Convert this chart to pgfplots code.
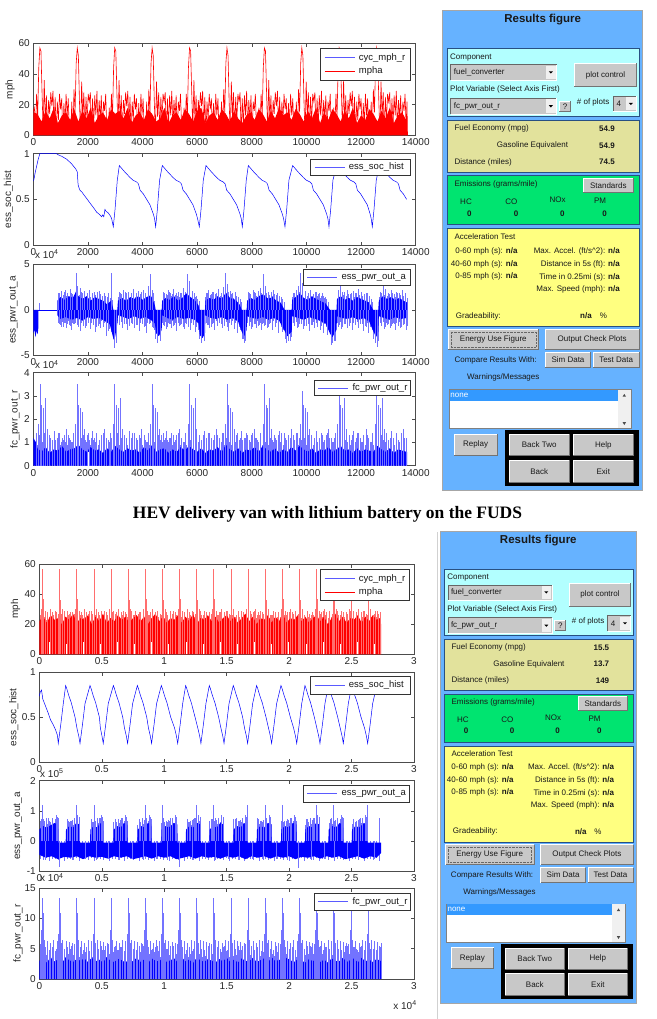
\documentclass[border=0pt]{standalone}
\usepackage{fontspec}
\setmainfont{Liberation Sans}
\newfontfamily\titlefont{Liberation Serif}
\usepackage{graphicx}
\usepackage{pgfplots}
\pgfplotsset{compat=1.18}

\definecolor{panelblue}{RGB}{102,178,255}
\definecolor{cyanp}{RGB}{178,255,255}
\definecolor{khaki}{RGB}{226,226,156}
\definecolor{greenp}{RGB}{0,228,112}
\definecolor{yellowp}{RGB}{255,255,128}
\definecolor{bord}{RGB}{40,80,130}
\definecolor{btngray}{RGB}{200,200,200}
\definecolor{selblue}{RGB}{51,153,255}
\definecolor{spk}{RGB}{115,115,255}
\definecolor{spkr}{RGB}{255,110,110}
\definecolor{lgblue}{RGB}{90,90,255}

\pgfplotsset{
  mat/.style={
    scale only axis, anchor=north west,
    axis line style={draw=black!70, line width=0.5pt},
    every tick/.style={draw=black!70, line width=0.5pt},
    major tick length=3.5pt, tick align=inside,
    xtick pos=both, ytick pos=both, xticklabel pos=lower, yticklabel pos=left,
    ticklabel style={font=\fontsize{10}{12}\selectfont, text=black!85},
    /pgf/number format/assume math mode=true,
    scaled ticks=false, /pgf/number format/1000 sep={},
    every axis y label/.style={rotate=90, anchor=center, font=\fontsize{10}{12}\selectfont, text=black!85},
    clip=true,
  },
  topx/.style={mat, width=382.4pt, xmin=0, xmax=14000, xtick={0,2000,4000,6000,8000,10000,12000,14000}},
  botx/.style={mat, width=374.7pt, xmin=0, xmax=3, xtick={0,0.5,1,1.5,2,2.5,3}},
}

\tikzset{gui/.style={font=\fontsize{8}{9.6}\selectfont, inner sep=0pt, text=black!90},
  lgt/.style={anchor=west, inner sep=0pt, font=\fontsize{9.5}{11}\selectfont, text=black!90}}

% legend box with one or two entries: left, top, right, bottom (pt, y downward)
\newcommand{\legone}[6]{%
  \begin{scope}[x=1pt, y=-1pt]
  \filldraw[fill=white, draw=black!80, line width=0.6pt] (#1,#2) rectangle (#3,#4);
  \draw[#5, line width=0.7pt] ({#1+4},{(#2+#4)/2}) -- ({#1+34},{(#2+#4)/2});
  \node[lgt] at ({#1+38},{(#2+#4)/2}) {#6};
  \end{scope}
}
\newcommand{\legtwo}[4]{%
  \begin{scope}[x=1pt, y=-1pt]
  \filldraw[fill=white, draw=black!80, line width=0.6pt] (#1,#2) rectangle (#3,#4);
  \draw[lgblue, line width=0.7pt] ({#1+4},{#2+9.4}) -- ({#1+34},{#2+9.4});
  \node[lgt] at ({#1+38},{#2+9.4}) {cyc\_mph\_r};
  \draw[red, line width=0.7pt] ({#1+4},{#2+23}) -- ({#1+34},{#2+23});
  \node[lgt] at ({#1+38},{#2+23}) {mpha};
  \end{scope}
}

\newcommand{\btn}[5]{%
  \fill[btngray] (#1,#2) rectangle (#3,#4);
  \draw[white, line width=0.8pt] (#1,#4) -- (#1,#2) -- (#3,#2);
  \draw[black!55, line width=0.8pt] (#1,#4) -- (#3,#4) -- (#3,#2);
  \node[gui] at ({(#1+#3)/2},{(#2+#4)/2}) {#5};
}
\newcommand{\ddown}[5]{%
  \fill[btngray] (#1,#2) rectangle (#3,#4);
  \draw[black!60, line width=0.5pt] (#1,#4) -- (#1,#2) -- (#3,#2);
  \draw[white, line width=0.5pt] (#1,#4) -- (#3,#4) -- (#3,#2);
  \node[gui, anchor=west] at ({#1+3},{(#2+#4)/2}) {#5};
  \fill[gray!12] ({#3-10.5},{#2+1.2}) rectangle ({#3-1.2},{#4-1.2});
  \fill[black] ({#3-7.9},{(#2+#4)/2-1}) -- ({#3-3.8},{(#2+#4)/2-1}) -- ({#3-5.85},{(#2+#4)/2+1.2}) -- cycle;
}
\newcommand{\guipanel}[3]{%
  \fill[panelblue] (0,0) rectangle (199.3,480);
  \draw[black!35, line width=0.6pt] (0,0) rectangle (199.3,480);
  \node[gui, font=\fontsize{11.5}{13}\selectfont\bfseries] at (100,8.5) {Results figure};
  \filldraw[fill=cyanp, draw=bord, line width=0.7pt] (4.6,38) rectangle (196.6,105.6);
  \node[gui, anchor=west] at (7.3,46.6) {Component};
  \ddown{8}{54}{114}{69.3}{fuel\_converter}
  \btn{131.6}{52.6}{194}{76}{plot control}
  \node[gui, anchor=west] at (7.3,79) {Plot Variable (Select Axis First)};
  \ddown{8}{87.5}{114}{103.6}{fc\_pwr\_out\_r}
  \btn{116.6}{90.3}{128}{100.8}{?}
  \node[gui, anchor=west] at (134,91.3) {\# of plots};
  \ddown{170.6}{85.3}{194}{101}{4}
  \filldraw[fill=khaki, draw=bord, line width=0.7pt] (4.6,109.6) rectangle (196.6,161.3);
  \node[gui, anchor=west] at (11.6,118) {Fuel Economy (mpg)};
  \node[gui, anchor=east, font=\fontsize{8}{9.6}\selectfont\bfseries] at (172.3,118) {#1};
  \node[gui, anchor=west] at (54,134.6) {Gasoline Equivalent};
  \node[gui, anchor=east, font=\fontsize{8}{9.6}\selectfont\bfseries] at (172.3,134.6) {#2};
  \node[gui, anchor=west] at (11.6,151.3) {Distance (miles)};
  \node[gui, anchor=east, font=\fontsize{8}{9.6}\selectfont\bfseries] at (172.3,151.3) {#3};
  \filldraw[fill=greenp, draw=bord, line width=0.7pt] (4.6,165) rectangle (196.6,214);
  \node[gui, anchor=west] at (11.6,173.6) {Emissions (grams/mile)};
  \btn{140.6}{167.3}{190.6}{182}{Standards}
  \node[gui] at (23.3,191.3) {HC};
  \node[gui] at (68.6,191.3) {CO};
  \node[gui] at (115,189.5) {NOx};
  \node[gui] at (157.3,190) {PM};
  \node[gui, font=\fontsize{8}{9.6}\selectfont\bfseries] at (26.6,202.6) {0};
  \node[gui, font=\fontsize{8}{9.6}\selectfont\bfseries] at (73.3,202.6) {0};
  \node[gui, font=\fontsize{8}{9.6}\selectfont\bfseries] at (119.6,202.6) {0};
  \node[gui, font=\fontsize{8}{9.6}\selectfont\bfseries] at (162,202.6) {0};
  \filldraw[fill=yellowp, draw=bord, line width=0.7pt] (4.6,218) rectangle (196.6,316);
  \node[gui, anchor=west] at (11.6,226) {Acceleration Test};
  \node[gui, anchor=east] at (75,240.3) {0-60 mph (s): \textbf{n/a}};
  \node[gui, anchor=east] at (75,253.3) {40-60 mph (s): \textbf{n/a}};
  \node[gui, anchor=east] at (75,265.3) {0-85 mph (s): \textbf{n/a}};
  \node[gui, anchor=east] at (177.3,240.3) {Max. Accel. (ft/s\textasciicircum 2): \textbf{n/a}};
  \node[gui, anchor=east] at (177.3,253.3) {Distance in 5s (ft): \textbf{n/a}};
  \node[gui, anchor=east] at (177.3,266.6) {Time in 0.25mi (s): \textbf{n/a}};
  \node[gui, anchor=east] at (177.3,278.6) {Max. Speed (mph): \textbf{n/a}};
  \node[gui, anchor=west] at (13,305.3) {Gradeability:};
  \node[gui, font=\fontsize{8}{9.6}\selectfont\bfseries] at (143.3,305.3) {n/a};
  \node[gui] at (160.6,305.3) {\%};
  \btn{5.6}{318.6}{95.6}{338.6}{Energy Use Figure}
  \draw[black!60, dash pattern=on 0.6pt off 0.8pt] (8,321) rectangle (93.2,336.2);
  \btn{102.6}{318.6}{196.3}{338.6}{Output Check Plots}
  \node[gui] at (53,349.3) {Compare Results With:};
  \btn{102.6}{341.6}{148}{357}{Sim Data}
  \btn{150.6}{341.6}{196.3}{357}{Test Data}
  \node[gui] at (60.6,366.6) {Warnings/Messages};
  \filldraw[fill=white, draw=black!50, line width=0.5pt] (6.3,378.6) rectangle (188.3,418);
  \fill[selblue] (6.8,379.1) rectangle (175,390);
  \node[gui, anchor=west, text=white] at (7.5,384.5) {none};
  \fill[gray!12] (175,379.1) rectangle (187.8,417.5);
  \fill[black!70] (179.9,386) -- (183.3,386) -- (181.6,383.2) -- cycle;
  \fill[black!70] (179.9,411.5) -- (183.3,411.5) -- (181.6,414.3) -- cycle;
  \btn{11.3}{423.3}{54.6}{444.3}{Replay}
  \fill[black] (62,419.3) rectangle (196.6,475);
  \btn{66.6}{423.6}{126.3}{445}{Back Two}
  \btn{130.6}{423.6}{190.6}{445}{Help}
  \btn{66.6}{449.3}{126.3}{471.6}{Back}
  \btn{130.6}{449.3}{190.6}{471.6}{Exit}
}

\begin{document}
\begin{tikzpicture}
\useasboundingbox (0,0) rectangle (656pt,-1019pt);

%================= TOP SCREENSHOT =================
\begin{axis}[topx, at={(33.3pt,-43.3pt)}, height=92pt, ymin=0, ymax=60, ytick={0,20,40,60},
  ylabel={mph}, ylabel style={at={(axis description cs:-0.061,0.5)}}]
\addplot[fill=red, draw=none] coordinates {(0,0)(0,15)
(150,14)(300,9)(450,16)(600,11)(750,18)(900,8)(1050,13)(1200,15)(1350,10)(1500,17)
(1650,9)(1800,16)(1950,11)(2100,18)(2250,8)(2400,13)(2550,15)(2700,10)(2850,17)(3000,14)
(3150,16)(3300,11)(3450,18)(3600,8)(3750,13)(3900,15)(4050,10)(4200,17)(4350,14)(4500,9)
(4650,11)(4800,18)(4950,8)(5100,13)(5250,15)(5400,10)(5550,17)(5700,14)(5850,9)(6000,16)
(6150,18)(6300,8)(6450,13)(6600,15)(6750,10)(6900,17)(7050,14)(7200,9)(7350,16)(7500,11)
(7650,8)(7800,13)(7950,15)(8100,10)(8250,17)(8400,14)(8550,9)(8700,16)(8850,11)(9000,18)
(9150,13)(9300,15)(9450,10)(9600,17)(9750,14)(9900,9)(10050,16)(10200,11)(10350,18)(10500,8)
(10650,15)(10800,10)(10950,17)(11100,14)(11250,9)(11400,16)(11550,11)(11700,18)(11850,8)(12000,13)
(12150,10)(12300,17)(12450,14)(12600,9)(12750,16)(12900,11)(13050,18)(13200,8)(13350,13)(13500,15)(13650,10)(13690,12)(13690,0)};
\addplot[red, line width=0.6pt] coordinates {
(0,15)(40,18)(80,4)(120,27)(160,12)(200,44)(240,57)(280,55)(320,28)(360,3)(400,36)(440,9)(480,26)(520,0)(560,23)(600,14)(640,28)(680,19)(720,29)(760,5)(800,25)(840,0)(880,22)(920,10)(960,27)(1000,17)(1040,24)(1080,0)(1120,21)(1160,7)(1200,27)(1240,13)(1280,24)(1320,2)
(1370,2)(1410,22)(1450,0)(1490,30)(1530,15)(1570,47)(1610,57)(1650,52)(1690,22)(1730,0)(1770,35)(1810,12)(1850,28)(1890,2)(1930,25)(1970,9)(2010,27)(2050,22)(2090,28)(2130,0)(2170,24)(2210,6)(2250,26)(2290,13)(2330,29)(2370,4)(2410,23)(2450,11)(2490,26)(2530,0)(2570,22)(2610,16)(2650,27)(2690,5)
(2740,0)(2780,18)(2820,4)(2860,27)(2900,12)(2940,44)(2980,57)(3020,55)(3060,28)(3100,3)(3140,36)(3180,9)(3220,26)(3260,0)(3300,23)(3340,14)(3380,28)(3420,19)(3460,29)(3500,5)(3540,25)(3580,0)(3620,22)(3660,10)(3700,27)(3740,17)(3780,24)(3820,0)(3860,21)(3900,7)(3940,27)(3980,13)(4020,24)(4060,2)
(4110,2)(4150,22)(4190,0)(4230,30)(4270,15)(4310,47)(4350,57)(4390,52)(4430,22)(4470,0)(4510,35)(4550,12)(4590,28)(4630,2)(4670,25)(4710,9)(4750,27)(4790,22)(4830,28)(4870,0)(4910,24)(4950,6)(4990,26)(5030,13)(5070,29)(5110,4)(5150,23)(5190,11)(5230,26)(5270,0)(5310,22)(5350,16)(5390,27)(5430,5)
(5480,0)(5520,18)(5560,4)(5600,27)(5640,12)(5680,44)(5720,57)(5760,55)(5800,28)(5840,3)(5880,36)(5920,9)(5960,26)(6000,0)(6040,23)(6080,14)(6120,28)(6160,19)(6200,29)(6240,5)(6280,25)(6320,0)(6360,22)(6400,10)(6440,27)(6480,17)(6520,24)(6560,0)(6600,21)(6640,7)(6680,27)(6720,13)(6760,24)(6800,2)
(6850,2)(6890,22)(6930,0)(6970,30)(7010,15)(7050,47)(7090,57)(7130,52)(7170,22)(7210,0)(7250,35)(7290,12)(7330,28)(7370,2)(7410,25)(7450,9)(7490,27)(7530,22)(7570,28)(7610,0)(7650,24)(7690,6)(7730,26)(7770,13)(7810,29)(7850,4)(7890,23)(7930,11)(7970,26)(8010,0)(8050,22)(8090,16)(8130,27)(8170,5)
(8220,0)(8260,18)(8300,4)(8340,27)(8380,12)(8420,44)(8460,57)(8500,55)(8540,28)(8580,3)(8620,36)(8660,9)(8700,26)(8740,0)(8780,23)(8820,14)(8860,28)(8900,19)(8940,29)(8980,5)(9020,25)(9060,0)(9100,22)(9140,10)(9180,27)(9220,17)(9260,24)(9300,0)(9340,21)(9380,7)(9420,27)(9460,13)(9500,24)(9540,2)
(9590,2)(9630,22)(9670,0)(9710,30)(9750,15)(9790,47)(9830,57)(9870,52)(9910,22)(9950,0)(9990,35)(10030,12)(10070,28)(10110,2)(10150,25)(10190,9)(10230,27)(10270,22)(10310,28)(10350,0)(10390,24)(10430,6)(10470,26)(10510,13)(10550,29)(10590,4)(10630,23)(10670,11)(10710,26)(10750,0)(10790,22)(10830,16)(10870,27)(10910,5)
(10960,0)(11000,18)(11040,4)(11080,27)(11120,12)(11160,44)(11200,57)(11240,55)(11280,28)(11320,3)(11360,36)(11400,9)(11440,26)(11480,0)(11520,23)(11560,14)(11600,28)(11640,19)(11680,29)(11720,5)(11760,25)(11800,0)(11840,22)(11880,10)(11920,27)(11960,17)(12000,24)(12040,0)(12080,21)(12120,7)(12160,27)(12200,13)(12240,24)(12280,2)
(12330,2)(12370,22)(12410,0)(12450,30)(12490,15)(12530,47)(12570,57)(12610,52)(12650,22)(12690,0)(12730,35)(12770,12)(12810,28)(12850,2)(12890,25)(12930,9)(12970,27)(13010,22)(13050,28)(13090,0)(13130,24)(13170,6)(13210,26)(13250,13)(13290,29)(13330,4)(13370,23)(13410,11)(13450,26)(13490,0)(13530,22)(13570,16)(13610,27)(13650,5)(13680,22)(13700,0)};
\end{axis}

\begin{axis}[topx, at={(33.3pt,-153.7pt)}, height=91.3pt, ymin=0, ymax=1, ytick={0,0.5,1},
  ylabel={ess\_soc\_hist}, ylabel style={at={(axis description cs:-0.065,0.5)}}]
\addplot[blue, line width=0.5pt] coordinates {
(0,0.70)(25,0.72)(60,0.78)(120,0.86)(180,0.94)(240,1.0)(850,1.0)(900,0.99)(1050,0.97)(1220,0.94)(1400,0.89)(1560,0.83)(1610,0.80)(1640,0.66)(1680,0.62)(1710,0.60)(1780,0.58)(1850,0.55)(1953,0.51)(2050,0.47)(2150,0.43)(2250,0.39)(2319,0.36)(2400,0.34)(2502,0.31)(2540,0.33)(2580,0.31)(2624,0.39)(2660,0.37)(2746,0.35)(2820,0.32)(2868,0.29)(2929,0.20)(2990,0.38)(3075,0.71)
(3149,0.87)(3234,0.84)(3349,0.80)(3539,0.74)(3649,0.71)(3783,0.69)(3849,0.67)(3909,0.60)(4027,0.56)(4149,0.50)(4271,0.44)(4393,0.34)(4439,0.29)(4479,0.20)(4539,0.38)(4624,0.71)
(4723,0.87)(4808,0.84)(4923,0.80)(5113,0.74)(5223,0.71)(5357,0.69)(5423,0.67)(5483,0.60)(5601,0.56)(5723,0.50)(5845,0.44)(5967,0.34)(6013,0.29)(6078,0.20)(6138,0.38)(6223,0.71)
(6322,0.87)(6407,0.84)(6522,0.80)(6712,0.74)(6822,0.71)(6956,0.69)(7022,0.67)(7082,0.60)(7200,0.56)(7322,0.50)(7444,0.44)(7566,0.34)(7612,0.29)(7652,0.20)(7712,0.38)(7797,0.71)
(7872,0.87)(7957,0.84)(8072,0.80)(8262,0.74)(8372,0.71)(8506,0.69)(8572,0.67)(8632,0.60)(8750,0.56)(8872,0.50)(8994,0.44)(9116,0.34)(9162,0.29)(9214,0.20)(9274,0.38)(9359,0.71)
(9495,0.87)(9580,0.84)(9695,0.80)(9885,0.74)(9995,0.71)(10129,0.69)(10195,0.67)(10255,0.60)(10373,0.56)(10495,0.50)(10617,0.44)(10739,0.34)(10785,0.29)(10825,0.20)(10885,0.38)(10970,0.71)
(11106,0.87)(11191,0.84)(11306,0.80)(11496,0.74)(11606,0.71)(11740,0.69)(11806,0.67)(11866,0.60)(11984,0.56)(12106,0.50)(12228,0.44)(12330,0.34)(12370,0.29)(12411,0.20)(12471,0.38)(12556,0.71)
(12668,0.87)(12753,0.84)(12868,0.80)(13058,0.74)(13168,0.71)(13302,0.69)(13368,0.67)(13428,0.60)(13546,0.56)(13668,0.50)};
\end{axis}

\begin{axis}[topx, at={(33.3pt,-264.3pt)}, height=91pt, ymin=-5, ymax=5, ytick={-5,0,5},
  ylabel={ess\_pwr\_out\_a}, ylabel style={at={(axis description cs:-0.052,0.5)}}]
\addplot[fill=blue, draw=none] coordinates {(0,0)(0,-2.6)(40,-2.2)(80,-3.0)(120,-2.3)(160,-2.7)(190,-1.8)(190,0)};
\addplot[blue, line width=0.5pt] coordinates {(190,0)(880,0)};
\addplot[ycomb, draw=spk, line width=0.45pt] coordinates {
(900,1.4)(960,1.8)(1020,1.3)(1080,1.6)(1140,2.0)(1200,1.5)(1260,1.7)(1320,1.3)(1380,1.9)(1440,1.5)(1500,1.4)(1560,1.8)(1620,1.3)(1680,1.6)(1740,2.0)(1800,1.5)(1860,1.7)(1920,1.3)(1980,1.9)(2040,1.5)(2100,1.4)(2160,1.8)(2220,1.3)(2280,1.6)(2340,2.0)(2400,1.5)(2460,1.7)(2520,1.3)(2580,1.9)(2640,1.5)(2700,1.4)(2760,1.8)(2820,1.3)(2880,1.1)
(3120,1.4)(3180,1.8)(3240,1.3)(3300,1.6)(3360,2.0)(3420,1.5)(3480,1.7)(3540,1.3)(3600,1.9)(3660,1.5)(3720,1.4)(3780,1.8)(3840,1.3)(3900,1.6)(3960,2.0)(4020,1.5)(4080,1.7)(4140,1.3)(4200,1.9)(4260,1.5)(4320,1.4)(4380,1.8)(4440,1.0)
(4740,1.4)(4800,1.8)(4860,1.3)(4920,1.6)(4980,2.0)(5040,1.5)(5100,1.7)(5160,1.3)(5220,1.9)(5280,1.5)(5340,1.4)(5400,1.8)(5460,1.3)(5520,1.6)(5580,2.0)(5640,1.5)(5700,1.7)(5760,1.3)(5820,1.9)(5880,1.5)(5940,1.4)(6000,1.2)(6060,1.0)
(6300,1.4)(6360,1.8)(6420,1.3)(6480,1.6)(6540,2.0)(6600,1.5)(6660,1.7)(6720,1.3)(6780,1.9)(6840,1.5)(6900,1.4)(6960,1.8)(7020,1.3)(7080,1.6)(7140,2.0)(7200,1.5)(7260,1.7)(7320,1.3)(7380,1.9)(7440,1.5)(7500,1.4)(7560,1.2)(7620,0.9)
(7860,1.4)(7920,1.8)(7980,1.3)(8040,1.6)(8100,2.0)(8160,1.5)(8220,1.7)(8280,1.3)(8340,1.9)(8400,1.5)(8460,1.4)(8520,1.8)(8580,1.3)(8640,1.6)(8700,2.0)(8760,1.5)(8820,1.7)(8880,1.3)(8940,1.9)(9000,1.5)(9060,1.4)(9120,1.2)(9180,0.9)
(9480,1.4)(9540,1.8)(9600,1.3)(9660,1.6)(9720,2.0)(9780,1.5)(9840,1.7)(9900,1.3)(9960,1.9)(10020,1.5)(10080,1.4)(10140,1.8)(10200,1.3)(10260,1.6)(10320,2.0)(10380,1.5)(10440,1.7)(10500,1.3)(10560,1.9)(10620,1.5)(10680,1.4)(10740,1.2)(10800,0.9)
(11160,1.4)(11220,1.8)(11280,1.3)(11340,1.6)(11400,2.0)(11460,1.5)(11520,1.7)(11580,1.3)(11640,1.9)(11700,1.5)(11760,1.4)(11820,1.8)(11880,1.3)(11940,1.6)(12000,2.0)(12060,1.5)(12120,1.7)(12180,1.3)(12240,1.9)(12300,1.5)(12360,1.2)(12420,0.9)
(12660,1.4)(12720,1.8)(12780,1.3)(12840,1.6)(12900,2.0)(12960,1.5)(13020,1.7)(13080,1.3)(13140,1.9)(13200,1.5)(13260,1.4)(13320,1.8)(13380,1.3)(13440,1.6)(13500,2.0)(13560,1.5)(13620,1.7)(13680,1.3)};
\addplot[ycomb, draw=spk, line width=0.45pt] coordinates {
(930,-1.4)(990,-1.7)(1050,-1.3)(1110,-1.9)(1170,-1.5)(1230,-1.6)(1290,-1.2)(1350,-1.8)(1410,-1.4)(1470,-1.6)(1530,-1.4)(1590,-1.7)(1650,-1.3)(1710,-1.9)(1770,-1.5)(1830,-1.6)(1890,-1.2)(1950,-1.8)(2010,-1.4)(2070,-1.6)(2130,-1.4)(2190,-1.7)(2250,-1.3)(2310,-1.9)(2370,-1.5)(2430,-1.6)(2490,-1.2)(2550,-1.8)(2610,-1.4)(2670,-1.6)(2730,-1.9)(2790,-2.1)(2850,-2.4)
(2910,-3.2)(2970,-3.6)(3030,-2.9)
(3090,-1.4)(3150,-1.7)(3210,-1.3)(3270,-1.9)(3330,-1.5)(3390,-1.6)(3450,-1.2)(3510,-1.8)(3570,-1.4)(3630,-1.6)(3690,-1.4)(3750,-1.7)(3810,-1.3)(3870,-1.9)(3930,-1.5)(3990,-1.6)(4050,-1.2)(4110,-1.8)(4170,-1.4)(4230,-1.6)(4290,-1.4)(4350,-1.9)(4410,-2.2)
(4470,-3.2)(4530,-3.6)(4590,-2.9)(4650,-3.4)
(4710,-1.4)(4770,-1.7)(4830,-1.3)(4890,-1.9)(4950,-1.5)(5010,-1.6)(5070,-1.2)(5130,-1.8)(5190,-1.4)(5250,-1.6)(5310,-1.4)(5370,-1.7)(5430,-1.3)(5490,-1.9)(5550,-1.5)(5610,-1.6)(5670,-1.2)(5730,-1.8)(5790,-1.4)(5850,-1.6)(5910,-1.4)(5970,-1.9)(6030,-2.2)
(6090,-3.2)(6150,-3.6)(6210,-2.9)(6270,-3.4)
(6330,-1.4)(6390,-1.7)(6450,-1.3)(6510,-1.9)(6570,-1.5)(6630,-1.6)(6690,-1.2)(6750,-1.8)(6810,-1.4)(6870,-1.6)(6930,-1.4)(6990,-1.7)(7050,-1.3)(7110,-1.9)(7170,-1.5)(7230,-1.6)(7290,-1.2)(7350,-1.8)(7410,-1.4)(7470,-1.6)(7530,-1.9)(7590,-2.2)
(7650,-3.2)(7710,-3.6)(7770,-2.9)
(7830,-1.4)(7890,-1.7)(7950,-1.3)(8010,-1.9)(8070,-1.5)(8130,-1.6)(8190,-1.2)(8250,-1.8)(8310,-1.4)(8370,-1.6)(8430,-1.4)(8490,-1.7)(8550,-1.3)(8610,-1.9)(8670,-1.5)(8730,-1.6)(8790,-1.2)(8850,-1.8)(8910,-1.4)(8970,-1.6)(9030,-1.4)(9090,-1.9)(9150,-2.2)
(9210,-3.2)(9270,-3.6)(9330,-2.9)(9390,-3.4)(9450,-3.0)
(9510,-1.4)(9570,-1.7)(9630,-1.3)(9690,-1.9)(9750,-1.5)(9810,-1.6)(9870,-1.2)(9930,-1.8)(9990,-1.4)(10050,-1.6)(10110,-1.4)(10170,-1.7)(10230,-1.3)(10290,-1.9)(10350,-1.5)(10410,-1.6)(10470,-1.2)(10530,-1.8)(10590,-1.4)(10650,-1.6)(10710,-1.9)(10770,-2.1)(10830,-2.4)
(10890,-3.2)(10950,-3.6)(11010,-2.9)(11070,-3.4)
(11130,-1.4)(11190,-1.7)(11250,-1.3)(11310,-1.9)(11370,-1.5)(11430,-1.6)(11490,-1.2)(11550,-1.8)(11610,-1.4)(11670,-1.6)(11730,-1.4)(11790,-1.7)(11850,-1.3)(11910,-1.9)(11970,-1.5)(12030,-1.6)(12090,-1.2)(12150,-1.8)(12210,-1.4)(12270,-1.6)(12330,-1.9)(12390,-2.2)
(12450,-3.2)(12510,-3.6)(12570,-2.9)(12630,-3.4)
(12690,-1.4)(12750,-1.7)(12810,-1.3)(12870,-1.9)(12930,-1.5)(12990,-1.6)(13050,-1.2)(13110,-1.8)(13170,-1.4)(13230,-1.6)(13290,-1.4)(13350,-1.7)(13410,-1.3)(13470,-1.9)(13530,-1.5)(13590,-1.6)(13650,-1.2)};
\addplot[fill=blue, draw=none] coordinates {
(880,1.0)(1000,1.4)(1150,1.1)(1300,1.5)(1450,1.3)(1560,2.0)(1650,1.5)(1800,1.2)(1950,1.5)(2100,1.0)(2250,1.4)(2400,1.2)(2550,1.0)(2700,0.6)(2850,1.0)(2920,0.2)(2930,0)(3075,0)(3100,1.0)(3250,1.3)(3400,1.0)(3550,1.4)(3700,1.2)(3850,1.5)(4000,1.1)(4150,1.4)(4300,1.6)(4450,0.5)(4480,0)(4700,0)(4720,1.0)(4850,1.3)(5000,1.1)(5150,1.5)(5300,1.0)(5450,1.3)(5600,1.8)(5750,1.4)(5900,1.1)(6050,0.5)(6080,0)(6290,0)(6300,1.0)(6450,1.3)(6600,1.1)(6750,1.5)(6900,1.2)(7050,1.9)(7200,1.3)(7400,1.1)(7550,0.6)(7630,0)(7810,0)(7830,1.0)(7950,1.3)(8100,1.1)(8250,1.5)(8420,1.7)(8600,1.2)(8750,1.4)(8900,1.0)(9050,0.8)(9200,0)(9460,0)(9480,1.1)(9600,1.4)(9770,1.8)(9900,1.3)(10050,1.1)(10200,1.5)(10350,1.2)(10500,1.0)(10700,0.7)(10860,0)(11100,0)(11120,1.2)(11250,1.5)(11400,1.1)(11550,1.3)(11700,1.0)(11850,1.4)(12000,1.2)(12150,1.0)(12300,0.8)(12440,0)(12630,0)(12650,1.0)(12800,1.5)(12950,1.2)(13100,1.4)(13250,1.1)(13400,1.3)(13550,1.0)(13690,0.8)
(13690,-0.9)(13450,-1.0)(13250,-0.8)(13050,-1.1)(12850,-0.9)(12650,-0.7)(12630,-2.4)(12550,-3.0)(12440,-2.3)(12300,-1.3)(12100,-0.9)(11900,-1.1)(11700,-0.8)(11500,-1.0)(11300,-0.9)(11120,-0.7)(11100,-2.2)(10950,-3.0)(10860,-2.6)(10700,-1.5)(10500,-1.2)(10300,-1.0)(10100,-0.8)(9900,-1.1)(9700,-0.9)(9480,-0.7)(9460,-2.4)(9300,-2.9)(9200,-2.3)(9000,-1.2)(8800,-0.9)(8600,-1.1)(8400,-0.8)(8200,-1.0)(8000,-0.9)(7830,-0.7)(7810,-2.2)(7720,-2.9)(7630,-2.4)(7500,-1.3)(7300,-0.9)(7100,-1.1)(6900,-0.8)(6700,-1.0)(6500,-0.9)(6300,-0.6)(6290,-2.5)(6200,-3.1)(6100,-2.8)(6050,-1.5)(5900,-1.1)(5700,-0.9)(5500,-1.0)(5300,-0.8)(5100,-1.1)(4900,-0.9)(4720,-0.6)(4700,-2.2)(4600,-2.9)(4500,-2.6)(4450,-1.5)(4300,-1.1)(4100,-0.8)(3900,-1.0)(3700,-0.7)(3500,-1.0)(3300,-0.8)(3100,-0.6)(3075,-1.5)(3000,-2.9)(2950,-3.3)(2900,-2.8)(2800,-1.6)(2600,-1.2)(2400,-0.9)(2200,-1.0)(2000,-0.8)(1800,-1.2)(1600,-0.9)(1400,-1.1)(1200,-0.8)(1000,-1.0)(880,-0.6)};
\addplot[ycomb, draw=spk, line width=0.45pt] coordinates {
(210,0.8)(920,1.9)(1010,2.1)(1090,1.6)(1180,2.2)(1260,1.8)(1350,2.3)(1430,1.7)(1560,4.0)(1600,2.6)(1700,2.4)(1780,1.9)(1870,2.1)(1960,1.7)(2050,2.2)(2140,1.6)(2230,2.0)(2330,1.8)(2420,2.1)(2520,1.5)(2610,1.9)(2700,1.3)(2870,4.0)(3130,2.0)(3210,1.7)(3300,2.2)(3390,1.8)(3480,2.0)(3570,1.6)(3660,2.3)(3750,1.9)(3840,2.1)(3930,1.7)(4020,2.2)(4110,1.8)(4200,2.6)(4270,3.9)(4350,2.2)(4760,2.0)(4850,1.7)(4940,2.2)(5030,1.9)(5120,2.3)(5210,1.6)(5300,2.0)(5390,1.8)(5480,2.4)(5620,3.9)(5700,3.2)(5800,2.1)(5890,1.8)(5980,1.5)(6330,1.9)(6420,2.2)(6510,1.7)(6600,2.0)(6690,1.8)(6780,2.3)(6870,1.9)(6960,2.5)(7030,4.0)(7100,2.8)(7200,2.1)(7300,1.8)(7400,2.0)(7500,1.4)(7870,2.0)(7960,1.7)(8050,2.2)(8140,1.9)(8230,2.1)(8320,2.4)(8420,3.9)(8500,2.6)(8600,2.0)(8700,1.8)(8800,2.2)(8900,1.6)(9000,1.4)(9520,1.9)(9610,2.2)(9700,2.6)(9770,4.0)(9850,2.9)(9950,2.1)(10050,1.8)(10150,2.2)(10250,1.7)(10350,2.0)(10450,1.8)(10550,1.5)(10650,1.3)(11150,2.2)(11220,3.0)(11300,2.0)(11400,1.8)(11500,2.2)(11600,1.7)(11700,2.1)(11800,1.9)(11900,2.3)(12000,1.8)(12100,1.6)(12200,1.9)(12300,1.3)(12700,2.0)(12800,2.8)(12900,2.3)(13000,1.9)(13100,2.2)(13200,1.7)(13300,2.0)(13400,1.8)(13500,2.2)(13600,1.9)};
\addplot[ycomb, draw=spk, line width=0.45pt] coordinates {
(950,-1.6)(1040,-1.9)(1130,-1.5)(1220,-2.0)(1310,-1.7)(1400,-2.2)(1490,-1.6)(1640,-1.9)(1730,-2.3)(1820,-1.8)(1910,-2.0)(2000,-1.5)(2090,-2.1)(2180,-1.7)(2270,-2.4)(2360,-1.8)(2460,-2.0)(2560,-1.9)(2660,-2.9)(2760,-2.3)(2960,-4.2)(3020,-3.6)(3160,-1.7)(3250,-2.0)(3340,-1.6)(3430,-2.2)(3520,-1.8)(3610,-1.5)(3700,-2.0)(3790,-1.7)(3880,-2.3)(3970,-1.6)(4060,-1.9)(4150,-2.5)(4400,-2.0)(4550,-3.3)(4650,-3.0)(4790,-1.8)(4880,-2.1)(4970,-1.6)(5060,-2.0)(5150,-1.7)(5240,-2.3)(5330,-1.8)(5420,-1.6)(5520,-2.1)(5660,-1.9)(5760,-2.2)(5850,-1.7)(5940,-2.4)(6150,-3.6)(6250,-3.4)(6360,-1.7)(6450,-2.0)(6540,-1.6)(6630,-2.2)(6720,-1.8)(6810,-1.5)(6900,-2.0)(7000,-1.8)(7150,-2.3)(7250,-1.7)(7350,-2.1)(7450,-2.6)(7680,-3.2)(7760,-3.4)(7900,-1.8)(7990,-2.1)(8080,-1.6)(8170,-2.0)(8260,-1.7)(8350,-2.2)(8450,-1.8)(8550,-2.0)(8650,-1.6)(8750,-2.2)(8850,-1.9)(8950,-2.6)(9100,-2.4)(9260,-3.7)(9350,-3.4)(9550,-1.8)(9650,-2.0)(9750,-1.6)(9900,-2.1)(10000,-1.8)(10100,-2.3)(10200,-1.7)(10300,-2.0)(10400,-1.9)(10500,-2.2)(10600,-2.5)(10750,-2.8)(10900,-3.9)(11000,-3.4)(11180,-1.9)(11280,-2.1)(11380,-1.6)(11480,-2.0)(11580,-1.8)(11680,-2.2)(11780,-1.7)(11880,-2.0)(11980,-1.6)(12080,-2.3)(12180,-1.9)(12280,-2.5)(12500,-3.6)(12600,-4.1)(12750,-1.8)(12850,-2.1)(12950,-1.7)(13050,-2.0)(13150,-1.6)(13250,-2.2)(13350,-1.8)(13450,-2.0)(13550,-1.7)(13650,-2.2)(13690,-1.8)};
\end{axis}

\begin{axis}[topx, at={(33.3pt,-372.7pt)}, height=93pt, ymin=0, ymax=4, ytick={0,1,2,3,4},
  ylabel={fc\_pwr\_out\_r}, ylabel style={at={(axis description cs:-0.048,0.5)}}]
\addplot[ycomb, draw=spk, line width=0.45pt] coordinates {
(30,1.0)(90,1.2)(150,0.9)(210,1.3)(270,1.1)(330,1.0)(390,1.4)(450,0.9)(510,1.2)(570,1.1)
(630,1.2)(690,0.9)(750,1.3)(810,1.1)(870,1.0)(930,1.4)(990,0.9)(1050,1.2)(1110,1.1)(1170,1.0)
(1230,0.9)(1290,1.3)(1350,1.1)(1410,1.0)(1470,1.4)(1530,0.9)(1590,1.2)(1650,1.1)(1710,1.0)(1770,1.2)
(1830,1.3)(1890,1.1)(1950,1.0)(2010,1.4)(2070,0.9)(2130,1.2)(2190,1.1)(2250,1.0)(2310,1.2)(2370,0.9)
(2430,1.1)(2490,1.0)(2550,1.4)(2610,0.9)(2670,1.2)(2730,1.1)(2790,1.0)(2850,1.2)(2910,0.9)(2970,1.3)
(3030,1.0)(3090,1.4)(3150,0.9)(3210,1.2)(3270,1.1)(3330,1.0)(3390,1.2)(3450,0.9)(3510,1.3)(3570,1.1)
(3630,1.4)(3690,0.9)(3750,1.2)(3810,1.1)(3870,1.0)(3930,1.2)(3990,0.9)(4050,1.3)(4110,1.1)(4170,1.0)
(4230,0.9)(4290,1.2)(4350,1.1)(4410,1.0)(4470,1.2)(4530,0.9)(4590,1.3)(4650,1.1)(4710,1.0)(4770,1.4)
(4830,1.2)(4890,1.1)(4950,1.0)(5010,1.2)(5070,0.9)(5130,1.3)(5190,1.1)(5250,1.0)(5310,1.4)(5370,0.9)
(5430,1.1)(5490,1.0)(5550,1.2)(5610,0.9)(5670,1.3)(5730,1.1)(5790,1.0)(5850,1.4)(5910,0.9)(5970,1.2)
(6030,1.0)(6090,1.2)(6150,0.9)(6210,1.3)(6270,1.1)(6330,1.0)(6390,1.4)(6450,0.9)(6510,1.2)(6570,1.1)
(6630,1.2)(6690,0.9)(6750,1.3)(6810,1.1)(6870,1.0)(6930,1.4)(6990,0.9)(7050,1.2)(7110,1.1)(7170,1.0)
(7230,0.9)(7290,1.3)(7350,1.1)(7410,1.0)(7470,1.4)(7530,0.9)(7590,1.2)(7650,1.1)(7710,1.0)(7770,1.2)
(7830,1.3)(7890,1.1)(7950,1.0)(8010,1.4)(8070,0.9)(8130,1.2)(8190,1.1)(8250,1.0)(8310,1.2)(8370,0.9)
(8430,1.1)(8490,1.0)(8550,1.4)(8610,0.9)(8670,1.2)(8730,1.1)(8790,1.0)(8850,1.2)(8910,0.9)(8970,1.3)
(9030,1.0)(9090,1.4)(9150,0.9)(9210,1.2)(9270,1.1)(9330,1.0)(9390,1.2)(9450,0.9)(9510,1.3)(9570,1.1)
(9630,1.4)(9690,0.9)(9750,1.2)(9810,1.1)(9870,1.0)(9930,1.2)(9990,0.9)(10050,1.3)(10110,1.1)(10170,1.0)
(10230,0.9)(10290,1.2)(10350,1.1)(10410,1.0)(10470,1.2)(10530,0.9)(10590,1.3)(10650,1.1)(10710,1.0)(10770,1.4)
(10830,1.2)(10890,1.1)(10950,1.0)(11010,1.2)(11070,0.9)(11130,1.3)(11190,1.1)(11250,1.0)(11310,1.4)(11370,0.9)
(11430,1.1)(11490,1.0)(11550,1.2)(11610,0.9)(11670,1.3)(11730,1.1)(11790,1.0)(11850,1.4)(11910,0.9)(11970,1.2)
(12030,1.0)(12090,1.2)(12150,0.9)(12210,1.3)(12270,1.1)(12330,1.0)(12390,1.4)(12450,0.9)(12510,1.2)(12570,1.1)
(12630,1.2)(12690,0.9)(12750,1.3)(12810,1.1)(12870,1.0)(12930,1.4)(12990,0.9)(13050,1.2)(13110,1.1)(13170,1.0)
(13230,0.9)(13290,1.3)(13350,1.1)(13410,1.0)(13470,1.4)(13530,0.9)(13590,1.2)(13650,1.1)};
\addplot[fill=blue, draw=none] coordinates {
(0,0)(0,1.2)(100,1.0)(150,0.75)(300,0.6)(450,0.8)(600,0.55)(750,0.7)(900,0.65)(1050,0.85)(1200,0.6)(1350,0.7)(1500,0.75)(1650,0.9)(1800,0.7)
(1950,0.6)(2100,0.8)(2250,0.65)(2400,0.7)(2550,0.55)(2700,0.75)(2850,0.6)(3000,0.85)(3150,0.7)(3300,0.6)(3450,0.75)(3600,0.65)
(3750,0.7)(3900,0.55)(4050,0.8)(4200,0.65)(4350,0.9)(4500,0.6)(4650,0.7)(4800,0.75)(4950,0.55)(5100,0.7)(5250,0.6)(5400,0.8)
(5550,0.65)(5700,0.85)(5850,0.7)(6000,0.6)(6150,0.75)(6300,0.55)(6450,0.7)(6600,0.65)(6750,0.8)(6900,0.6)(7050,0.9)(7200,0.7)
(7350,0.6)(7500,0.75)(7650,0.55)(7800,0.7)(7950,0.65)(8100,0.8)(8250,0.6)(8400,0.85)(8550,0.7)(8700,0.6)(8850,0.75)(9000,0.55)
(9150,0.7)(9300,0.6)(9450,0.8)(9600,0.65)(9750,0.85)(9900,0.7)(10050,0.6)(10200,0.75)(10350,0.55)(10500,0.7)(10650,0.65)(10800,0.8)
(10950,0.6)(11100,0.7)(11250,0.85)(11400,0.65)(11550,0.7)(11700,0.55)(11850,0.75)(12000,0.6)(12150,0.7)(12300,0.65)(12450,0.6)(12600,0.85)
(12750,0.7)(12900,0.6)(13050,0.75)(13200,0.55)(13350,0.7)(13500,0.65)(13650,0.6)(13690,0.6)(13690,0)};
\addplot[ycomb, draw=white, line width=0.4pt] coordinates {(122,0.8)(2014,0.6)(3783,0.6)(5553,0.6)(8543,0.6)(11472,0.6)};
\addplot[ycomb, draw=spk, line width=0.45pt] coordinates {
(90,1.4)(180,1.8)(240,3.5)(290,2.6)(360,2.5)(430,2.9)(500,1.6)(590,1.3)(680,1.1)(770,1.5)(860,1.2)(950,1.4)(1040,1.0)(1130,1.3)(1220,1.6)(1310,1.2)(1400,1.0)
(1460,1.4)(1550,1.8)(1610,3.5)(1660,2.6)(1730,2.5)(1800,2.3)(1870,1.6)(1960,1.3)(2050,1.1)(2140,1.5)(2230,1.2)(2320,1.4)(2410,1.0)(2500,1.3)(2590,1.6)(2680,1.2)(2770,1.0)
(2830,1.4)(2920,1.8)(2980,3.5)(3030,2.6)(3100,2.5)(3170,2.9)(3240,1.6)(3330,1.3)(3420,1.1)(3510,1.5)(3600,1.2)(3690,1.4)(3780,1.0)(3870,1.3)(3960,1.6)(4050,1.2)(4140,1.0)
(4200,1.4)(4290,1.8)(4350,3.5)(4400,2.6)(4470,2.5)(4540,2.3)(4610,1.6)(4700,1.3)(4790,1.1)(4880,1.5)(4970,1.2)(5060,1.4)(5150,1.0)(5240,1.3)(5330,1.6)(5420,1.2)(5510,1.0)
(5570,1.4)(5660,1.8)(5720,3.5)(5770,2.6)(5840,2.5)(5910,2.9)(5980,1.6)(6070,1.3)(6160,1.1)(6250,1.5)(6340,1.2)(6430,1.4)(6520,1.0)(6610,1.3)(6700,1.6)(6790,1.2)(6880,1.0)
(6940,1.4)(7030,1.8)(7090,3.5)(7140,2.6)(7210,2.5)(7280,2.3)(7350,1.6)(7440,1.3)(7530,1.1)(7620,1.5)(7710,1.2)(7800,1.4)(7890,1.0)(7980,1.3)(8070,1.6)(8160,1.2)(8250,1.0)
(8310,1.4)(8400,1.8)(8460,3.5)(8510,2.6)(8580,2.5)(8650,2.9)(8720,1.6)(8810,1.3)(8900,1.1)(8990,1.5)(9080,1.2)(9170,1.4)(9260,1.0)(9350,1.3)(9440,1.6)(9530,1.2)(9620,1.0)
(9680,1.4)(9770,1.8)(9830,3.2)(9880,2.6)(9950,2.5)(10020,2.3)(10090,1.6)(10180,1.3)(10270,1.1)(10360,1.5)(10450,1.2)(10540,1.4)(10630,1.0)(10720,1.3)(10810,1.6)(10900,1.2)(10990,1.0)
(11050,1.4)(11140,1.8)(11200,3.0)(11250,2.6)(11320,2.5)(11390,2.9)(11460,1.6)(11550,1.3)(11640,1.1)(11730,1.5)(11820,1.2)(11910,1.4)(12000,1.0)(12090,1.3)(12180,1.6)(12270,1.2)(12360,1.0)
(12420,1.4)(12510,1.8)(12570,3.0)(12620,2.6)(12690,2.5)(12760,2.9)(12830,1.6)(12920,1.3)(13010,1.1)(13100,1.5)(13190,1.2)(13280,1.4)(13370,1.0)(13460,1.3)(13550,1.6)(13640,1.2)};
\end{axis}

% legends (top)
\legtwo{320.7}{48.3}{410.7}{80}
\legone{310.7}{159.3}{410.7}{175}{lgblue}{ess\_soc\_hist}
\legone{303.3}{269}{410.7}{285}{lgblue}{ess\_pwr\_out\_a}
\legone{314.3}{380}{410.7}{395.7}{lgblue}{fc\_pwr\_out\_r}

\node[anchor=west, inner sep=0pt, font=\fontsize{10}{12}\selectfont, text=black!85] at (35pt,-254pt) {x 10\textsuperscript{4}};
\node[anchor=west, inner sep=0pt, font=\fontsize{10}{12}\selectfont, text=black!85] at (35pt,-364.5pt) {x 10\textsuperscript{4}};

\begin{scope}[shift={(442.7pt,-10.7pt)}, x=1pt, y=-1pt]
\guipanel{54.9}{54.9}{74.5}
\end{scope}

\node at (327.5pt,-514.5pt) {\resizebox{389pt}{!}{\titlefont\bfseries HEV delivery van with lithium battery on the FUDS}};

%================= BOTTOM SCREENSHOT =================
\draw[black!18, line width=1pt] (437.3pt,-532pt) -- (437.3pt,-1019pt);

\begin{axis}[botx, at={(39.3pt,-564pt)}, height=90.3pt, ymin=0, ymax=60, ytick={0,20,40,60},
  ylabel={mph}, ylabel style={at={(axis description cs:-0.0635,0.5)}}]
\addplot[ycomb, draw=spkr, line width=0.45pt] coordinates {
(0.006,26)(0.018,24)(0.030,28)(0.042,25)(0.054,23)(0.066,27)(0.078,25)(0.090,29)(0.102,24)(0.114,26)
(0.126,24)(0.138,28)(0.150,25)(0.162,23)(0.174,27)(0.186,25)(0.198,29)(0.210,24)(0.222,26)(0.234,26)
(0.246,28)(0.258,25)(0.270,23)(0.282,27)(0.294,25)(0.306,29)(0.318,24)(0.330,26)(0.342,26)(0.354,24)
(0.366,25)(0.378,23)(0.390,27)(0.402,25)(0.414,29)(0.426,24)(0.438,26)(0.450,26)(0.462,24)(0.474,28)
(0.486,23)(0.498,27)(0.510,25)(0.522,29)(0.534,24)(0.546,26)(0.558,26)(0.570,24)(0.582,28)(0.594,25)
(0.606,27)(0.618,25)(0.630,29)(0.642,24)(0.654,26)(0.666,26)(0.678,24)(0.690,28)(0.702,25)(0.714,23)
(0.726,25)(0.738,29)(0.750,24)(0.762,26)(0.774,26)(0.786,24)(0.798,28)(0.810,25)(0.822,23)(0.834,27)
(0.846,29)(0.858,24)(0.870,26)(0.882,26)(0.894,24)(0.906,28)(0.918,25)(0.930,23)(0.942,27)(0.954,25)
(0.966,24)(0.978,26)(0.990,26)(1.002,24)(1.014,28)(1.026,25)(1.038,23)(1.050,27)(1.062,25)(1.074,29)
(1.086,26)(1.098,26)(1.110,24)(1.122,28)(1.134,25)(1.146,23)(1.158,27)(1.170,25)(1.182,29)(1.194,24)
(1.206,26)(1.218,24)(1.230,28)(1.242,25)(1.254,23)(1.266,27)(1.278,25)(1.290,29)(1.302,24)(1.314,26)
(1.326,24)(1.338,28)(1.350,25)(1.362,23)(1.374,27)(1.386,25)(1.398,29)(1.410,24)(1.422,26)(1.434,26)
(1.446,28)(1.458,25)(1.470,23)(1.482,27)(1.494,25)(1.506,29)(1.518,24)(1.530,26)(1.542,26)(1.554,24)
(1.566,25)(1.578,23)(1.590,27)(1.602,25)(1.614,29)(1.626,24)(1.638,26)(1.650,26)(1.662,24)(1.674,28)
(1.686,23)(1.698,27)(1.710,25)(1.722,29)(1.734,24)(1.746,26)(1.758,26)(1.770,24)(1.782,28)(1.794,25)
(1.806,27)(1.818,25)(1.830,29)(1.842,24)(1.854,26)(1.866,26)(1.878,24)(1.890,28)(1.902,25)(1.914,23)
(1.926,25)(1.938,29)(1.950,24)(1.962,26)(1.974,26)(1.986,24)(1.998,28)(2.010,25)(2.022,23)(2.034,27)
(2.046,29)(2.058,24)(2.070,26)(2.082,26)(2.094,24)(2.106,28)(2.118,25)(2.130,23)(2.142,27)(2.154,25)
(2.166,24)(2.178,26)(2.190,26)(2.202,24)(2.214,28)(2.226,25)(2.238,23)(2.250,27)(2.262,25)(2.274,29)
(2.286,26)(2.298,26)(2.310,24)(2.322,28)(2.334,25)(2.346,23)(2.358,27)(2.370,25)(2.382,29)(2.394,24)
(2.406,26)(2.418,24)(2.430,28)(2.442,25)(2.454,23)(2.466,27)(2.478,25)(2.490,29)(2.502,24)(2.514,26)
(2.526,24)(2.538,28)(2.550,25)(2.562,23)(2.574,27)(2.586,25)(2.598,29)(2.610,24)(2.622,26)(2.634,26)
(2.646,28)(2.658,25)(2.670,23)(2.682,27)(2.694,25)(2.706,29)(2.718,24)(2.730,26)};
\addplot[fill=red, draw=none] coordinates {(0,0)
(0,22)(0.03,25)(0.06,21)(0.09,26)(0.12,23)(0.15,24)(0.18,20)(0.21,25)(0.24,23)(0.27,27)(0.30,21)(0.33,24)
(0.36,23)(0.39,26)(0.42,20)(0.45,25)(0.48,22)(0.51,27)(0.54,21)(0.57,24)(0.60,22)(0.63,26)(0.66,23)(0.69,25)
(0.72,21)(0.75,24)(0.78,26)(0.81,22)(0.84,25)(0.87,20)(0.90,24)(0.93,27)(0.96,22)(0.99,25)(1.02,21)(1.05,24)
(1.08,23)(1.11,26)(1.14,21)(1.17,25)(1.20,22)(1.23,27)(1.26,20)(1.29,24)(1.32,23)(1.35,26)(1.38,22)(1.41,25)
(1.44,21)(1.47,24)(1.50,26)(1.53,22)(1.56,25)(1.59,21)(1.62,24)(1.65,27)(1.68,22)(1.71,25)(1.74,20)(1.77,24)
(1.80,23)(1.83,26)(1.86,21)(1.89,25)(1.92,22)(1.95,27)(1.98,21)(2.01,24)(2.04,23)(2.07,26)(2.10,22)(2.13,25)
(2.16,21)(2.19,24)(2.22,26)(2.25,22)(2.28,25)(2.31,20)(2.34,24)(2.37,27)(2.40,22)(2.43,25)(2.46,21)(2.49,24)
(2.52,23)(2.55,26)(2.58,21)(2.61,25)(2.64,22)(2.67,26)(2.70,23)(2.73,24)(2.736,20)(2.736,0)};
\addplot[ycomb, draw=white, line width=0.3pt] coordinates {
(0.075,8)(0.212,7)(0.349,8)(0.487,7)(0.624,8)(0.761,7)(0.898,8)(1.035,7)(1.173,8)(1.310,7)(1.447,8)(1.584,7)(1.721,8)(1.859,7)(1.996,8)(2.133,7)(2.270,8)(2.407,7)(2.545,8)(2.682,7)};
\addplot[ycomb, draw=spkr, line width=0.45pt] coordinates {
(0.012,30)(0.024,57)(0.030,37)(0.045,29)(0.065,28)(0.085,30)(0.105,28)(0.125,29)
(0.149,27)(0.161,57)(0.167,36)(0.182,30)(0.202,26)(0.222,29)(0.242,27)(0.262,28)
(0.286,30)(0.298,57)(0.304,37)(0.319,29)(0.339,28)(0.359,30)(0.379,28)(0.399,29)
(0.424,27)(0.436,57)(0.442,36)(0.457,30)(0.477,26)(0.497,29)(0.517,27)(0.537,28)
(0.561,30)(0.573,57)(0.579,37)(0.594,29)(0.614,28)(0.634,30)(0.654,28)(0.674,29)
(0.698,27)(0.710,57)(0.716,36)(0.731,30)(0.751,26)(0.771,29)(0.791,27)(0.811,28)
(0.835,30)(0.847,57)(0.853,37)(0.868,29)(0.888,28)(0.908,30)(0.928,28)(0.948,29)
(0.972,27)(0.984,57)(0.990,36)(1.005,30)(1.025,26)(1.045,29)(1.065,27)(1.085,28)
(1.110,30)(1.122,57)(1.128,37)(1.143,29)(1.163,28)(1.183,30)(1.203,28)(1.223,29)
(1.247,27)(1.259,57)(1.265,36)(1.280,30)(1.300,26)(1.320,29)(1.340,27)(1.360,28)
(1.384,30)(1.396,57)(1.402,37)(1.417,29)(1.437,28)(1.457,30)(1.477,28)(1.497,29)
(1.521,27)(1.533,57)(1.539,36)(1.554,30)(1.574,26)(1.594,29)(1.614,27)(1.634,28)
(1.658,30)(1.670,57)(1.676,37)(1.691,29)(1.711,28)(1.731,30)(1.751,28)(1.771,29)
(1.796,27)(1.808,57)(1.814,36)(1.829,30)(1.849,26)(1.869,29)(1.889,27)(1.909,28)
(1.933,30)(1.945,57)(1.951,37)(1.966,29)(1.986,28)(2.006,30)(2.026,28)(2.046,29)
(2.070,27)(2.082,57)(2.088,36)(2.103,30)(2.123,26)(2.143,29)(2.163,27)(2.183,28)
(2.207,30)(2.219,57)(2.225,37)(2.240,29)(2.260,28)(2.280,30)(2.300,28)(2.320,29)
(2.344,27)(2.356,57)(2.362,36)(2.377,30)(2.397,26)(2.417,29)(2.437,27)(2.457,28)
(2.482,30)(2.494,57)(2.500,37)(2.515,29)(2.535,28)(2.555,30)(2.575,28)(2.595,29)
(2.619,27)(2.631,57)(2.637,36)(2.652,30)(2.672,26)(2.692,29)(2.712,27)(2.732,28)};
\end{axis}

\begin{axis}[botx, at={(39.3pt,-672pt)}, height=90.3pt, ymin=0, ymax=1, ytick={0,0.5,1},
  ylabel={ess\_soc\_hist}, ylabel style={at={(axis description cs:-0.068,0.5)}}]
\addplot[blue, line width=0.5pt] coordinates {
(0,0.73)(0.008,0.78)(0.018,0.80)(0.028,0.70)(0.045,0.64)(0.07,0.55)(0.09,0.47)(0.11,0.42)(0.13,0.36)(0.145,0.30)(0.152,0.21)(0.172,0.42)(0.192,0.65)
(0.211,0.85)(0.219,0.82)(0.236,0.74)(0.256,0.66)(0.271,0.58)(0.286,0.50)(0.301,0.38)(0.316,0.29)(0.326,0.21)(0.346,0.42)(0.366,0.65)
(0.406,0.85)(0.414,0.82)(0.431,0.74)(0.451,0.66)(0.466,0.58)(0.481,0.50)(0.489,0.38)(0.502,0.29)(0.512,0.21)(0.532,0.42)(0.552,0.65)
(0.593,0.85)(0.601,0.82)(0.618,0.74)(0.638,0.66)(0.653,0.58)(0.668,0.50)(0.682,0.38)(0.697,0.29)(0.707,0.21)(0.727,0.42)(0.747,0.65)
(0.785,0.85)(0.793,0.82)(0.810,0.74)(0.830,0.66)(0.845,0.58)(0.860,0.50)(0.874,0.38)(0.889,0.29)(0.899,0.21)(0.919,0.42)(0.939,0.65)
(0.977,0.85)(0.985,0.82)(1.002,0.74)(1.022,0.66)(1.037,0.58)(1.052,0.50)(1.083,0.38)(1.098,0.29)(1.108,0.21)(1.128,0.42)(1.148,0.65)
(1.172,0.85)(1.180,0.82)(1.197,0.74)(1.217,0.66)(1.232,0.58)(1.247,0.50)(1.269,0.38)(1.284,0.29)(1.294,0.21)(1.314,0.42)(1.334,0.65)
(1.361,0.85)(1.369,0.82)(1.386,0.74)(1.406,0.66)(1.421,0.58)(1.436,0.50)(1.454,0.38)(1.469,0.29)(1.479,0.21)(1.499,0.42)(1.519,0.65)
(1.553,0.85)(1.561,0.82)(1.578,0.74)(1.598,0.66)(1.613,0.58)(1.628,0.50)(1.643,0.38)(1.658,0.29)(1.668,0.21)(1.688,0.42)(1.708,0.65)
(1.740,0.85)(1.748,0.82)(1.765,0.74)(1.785,0.66)(1.800,0.58)(1.815,0.50)(1.835,0.38)(1.850,0.29)(1.860,0.21)(1.880,0.42)(1.900,0.65)
(1.935,0.85)(1.943,0.82)(1.960,0.74)(1.980,0.66)(1.995,0.58)(2.010,0.50)(2.036,0.38)(2.051,0.29)(2.061,0.21)(2.081,0.42)(2.101,0.65)
(2.127,0.85)(2.135,0.82)(2.152,0.74)(2.172,0.66)(2.187,0.58)(2.202,0.50)(2.222,0.38)(2.237,0.29)(2.247,0.21)(2.267,0.42)(2.287,0.65)
(2.314,0.85)(2.322,0.82)(2.339,0.74)(2.359,0.66)(2.374,0.58)(2.389,0.50)(2.409,0.38)(2.424,0.29)(2.434,0.21)(2.454,0.42)(2.474,0.65)
(2.501,0.85)(2.509,0.82)(2.526,0.74)(2.546,0.66)(2.561,0.58)(2.576,0.50)(2.604,0.38)(2.619,0.29)(2.629,0.21)(2.649,0.42)(2.669,0.65)(2.690,0.78)};
\end{axis}

\begin{axis}[botx, at={(39.3pt,-780.7pt)}, height=90.6pt, ymin=-1, ymax=2, ytick={-1,0,1,2},
  ylabel={ess\_pwr\_out\_a}, ylabel style={at={(axis description cs:-0.057,0.5)}}]
\addplot[ycomb, draw=spk, line width=0.45pt] coordinates {
(0.006,0.65)(0.018,0.55)(0.030,0.72)(0.042,0.6)(0.054,0.78)(0.066,0.58)(0.078,0.68)(0.090,0.62)(0.102,0.65)(0.114,0.55)(0.126,0.72)(0.138,0.6)(0.150,0.78)
(0.222,0.58)(0.234,0.68)(0.246,0.62)(0.258,0.65)(0.270,0.55)(0.282,0.72)(0.294,0.6)(0.306,0.78)(0.318,0.58)
(0.414,0.68)(0.426,0.62)(0.438,0.65)(0.450,0.55)(0.462,0.72)(0.474,0.6)(0.486,0.78)(0.498,0.58)(0.510,0.68)
(0.594,0.62)(0.606,0.65)(0.618,0.55)(0.630,0.72)(0.642,0.6)(0.654,0.78)(0.666,0.58)(0.678,0.68)(0.690,0.62)(0.702,0.65)
(0.786,0.55)(0.798,0.72)(0.810,0.6)(0.822,0.78)(0.834,0.58)(0.846,0.68)(0.858,0.62)(0.870,0.65)(0.882,0.55)(0.894,0.72)
(0.978,0.6)(0.990,0.78)(1.002,0.58)(1.014,0.68)(1.026,0.62)(1.038,0.65)(1.050,0.55)(1.062,0.72)(1.074,0.6)(1.086,0.78)(1.098,0.58)
(1.182,0.68)(1.194,0.62)(1.206,0.65)(1.218,0.55)(1.230,0.72)(1.242,0.6)(1.254,0.78)(1.266,0.58)(1.278,0.68)(1.290,0.62)
(1.362,0.65)(1.374,0.55)(1.386,0.72)(1.398,0.6)(1.410,0.78)(1.422,0.58)(1.434,0.68)(1.446,0.62)(1.458,0.65)(1.470,0.55)
(1.554,0.72)(1.566,0.6)(1.578,0.78)(1.590,0.58)(1.602,0.68)(1.614,0.62)(1.626,0.65)(1.638,0.55)(1.650,0.72)(1.662,0.6)
(1.746,0.78)(1.758,0.58)(1.770,0.68)(1.782,0.62)(1.794,0.65)(1.806,0.55)(1.818,0.72)(1.830,0.6)(1.842,0.78)(1.854,0.58)
(1.938,0.68)(1.950,0.62)(1.962,0.65)(1.974,0.55)(1.986,0.72)(1.998,0.6)(2.010,0.78)(2.022,0.58)(2.034,0.68)(2.046,0.62)(2.058,0.65)
(2.130,0.55)(2.142,0.72)(2.154,0.6)(2.166,0.78)(2.178,0.58)(2.190,0.68)(2.202,0.62)(2.214,0.65)(2.226,0.55)(2.238,0.72)
(2.322,0.6)(2.334,0.78)(2.346,0.58)(2.358,0.68)(2.370,0.62)(2.382,0.65)(2.394,0.55)(2.406,0.72)(2.418,0.6)(2.430,0.78)
(2.502,0.58)(2.514,0.68)(2.526,0.62)(2.538,0.65)(2.550,0.55)(2.562,0.72)(2.574,0.6)(2.586,0.78)(2.598,0.58)(2.610,0.68)(2.622,0.62)};
\addplot[ycomb, draw=spk, line width=0.45pt] coordinates {
(0.006,-0.58)(0.030,-0.62)(0.054,-0.55)(0.078,-0.65)(0.102,-0.6)(0.126,-0.58)(0.150,-0.62)(0.174,-0.55)(0.198,-0.65)(0.222,-0.6)(0.246,-0.58)(0.270,-0.62)(0.294,-0.55)(0.318,-0.65)(0.342,-0.6)(0.366,-0.58)(0.390,-0.62)(0.414,-0.55)(0.438,-0.65)(0.462,-0.6)(0.486,-0.58)(0.510,-0.62)(0.534,-0.55)(0.558,-0.65)(0.582,-0.6)(0.606,-0.58)(0.630,-0.62)(0.654,-0.55)(0.678,-0.65)(0.702,-0.6)(0.726,-0.58)(0.750,-0.62)(0.774,-0.55)(0.798,-0.65)(0.822,-0.6)(0.846,-0.58)(0.870,-0.62)(0.894,-0.55)(0.918,-0.65)(0.942,-0.6)(0.966,-0.58)(0.990,-0.62)(1.014,-0.55)(1.038,-0.65)(1.062,-0.6)(1.086,-0.58)(1.110,-0.62)(1.134,-0.55)(1.158,-0.65)(1.182,-0.6)(1.206,-0.58)(1.230,-0.62)(1.254,-0.55)(1.278,-0.65)(1.302,-0.6)(1.326,-0.58)(1.350,-0.62)(1.374,-0.55)(1.398,-0.65)(1.422,-0.6)(1.446,-0.58)(1.470,-0.62)(1.494,-0.55)(1.518,-0.65)(1.542,-0.6)(1.566,-0.58)(1.590,-0.62)(1.614,-0.55)(1.638,-0.65)(1.662,-0.6)(1.686,-0.58)(1.710,-0.62)(1.734,-0.55)(1.758,-0.65)(1.782,-0.6)(1.806,-0.58)(1.830,-0.62)(1.854,-0.55)(1.878,-0.65)(1.902,-0.6)(1.926,-0.58)(1.950,-0.62)(1.974,-0.55)(1.998,-0.65)(2.022,-0.6)(2.046,-0.58)(2.070,-0.62)(2.094,-0.55)(2.118,-0.65)(2.142,-0.6)(2.166,-0.58)(2.190,-0.62)(2.214,-0.55)(2.238,-0.65)(2.262,-0.6)(2.286,-0.58)(2.310,-0.62)(2.334,-0.55)(2.358,-0.65)(2.382,-0.6)(2.406,-0.58)(2.430,-0.62)(2.454,-0.55)(2.478,-0.65)(2.502,-0.6)(2.526,-0.58)(2.550,-0.62)(2.574,-0.55)(2.598,-0.65)(2.622,-0.6)(2.646,-0.58)(2.670,-0.62)(2.694,-0.55)(2.718,-0.65)};
\addplot[fill=blue, draw=none] coordinates {
(0,0.38)(0.03,0.5)(0.06,0.45)(0.122,0.6)(0.149,0.55)(0.152,-0.05)(0.211,-0.05)
(0.214,0.38)(0.241,0.5)(0.271,0.45)(0.296,0.6)(0.323,0.55)(0.326,-0.05)(0.406,-0.05)
(0.409,0.38)(0.436,0.5)(0.466,0.45)(0.482,0.6)(0.509,0.55)(0.512,-0.05)(0.593,-0.05)
(0.596,0.38)(0.623,0.5)(0.653,0.45)(0.677,0.6)(0.704,0.55)(0.707,-0.05)(0.785,-0.05)
(0.788,0.38)(0.815,0.5)(0.845,0.45)(0.869,0.6)(0.896,0.55)(0.899,-0.05)(0.977,-0.05)
(0.980,0.38)(1.007,0.5)(1.037,0.45)(1.078,0.6)(1.105,0.55)(1.108,-0.05)(1.172,-0.05)
(1.175,0.38)(1.202,0.5)(1.232,0.45)(1.264,0.6)(1.291,0.55)(1.294,-0.05)(1.361,-0.05)
(1.364,0.38)(1.391,0.5)(1.421,0.45)(1.449,0.6)(1.476,0.55)(1.479,-0.05)(1.553,-0.05)
(1.556,0.38)(1.583,0.5)(1.613,0.45)(1.638,0.6)(1.665,0.55)(1.668,-0.05)(1.740,-0.05)
(1.743,0.38)(1.770,0.5)(1.800,0.45)(1.830,0.6)(1.857,0.55)(1.860,-0.05)(1.935,-0.05)
(1.938,0.38)(1.965,0.5)(1.995,0.45)(2.031,0.6)(2.058,0.55)(2.061,-0.05)(2.127,-0.05)
(2.130,0.38)(2.157,0.5)(2.187,0.45)(2.217,0.6)(2.244,0.55)(2.247,-0.05)(2.314,-0.05)
(2.317,0.38)(2.344,0.5)(2.374,0.45)(2.404,0.6)(2.431,0.55)(2.434,-0.05)(2.501,-0.05)
(2.504,0.38)(2.531,0.5)(2.561,0.45)(2.599,0.6)(2.626,0.55)(2.629,-0.05)(2.736,-0.05)
(2.736,-0.4)(2.70,-0.55)(2.65,-0.5)(2.60,-0.58)(2.55,-0.5)(2.50,-0.55)(2.45,-0.6)(2.40,-0.5)(2.35,-0.55)(2.30,-0.5)(2.25,-0.58)(2.20,-0.5)(2.15,-0.55)(2.10,-0.52)(2.05,-0.6)(2.00,-0.5)(1.95,-0.55)(1.90,-0.5)(1.85,-0.58)(1.80,-0.5)(1.75,-0.55)(1.70,-0.5)(1.65,-0.6)(1.60,-0.5)(1.55,-0.55)(1.50,-0.5)(1.45,-0.58)(1.40,-0.52)(1.35,-0.55)(1.30,-0.5)(1.25,-0.58)(1.20,-0.5)(1.15,-0.55)(1.10,-0.6)(1.05,-0.5)(1.00,-0.55)(0.95,-0.5)(0.90,-0.58)(0.85,-0.5)(0.80,-0.55)(0.75,-0.6)(0.70,-0.5)(0.65,-0.55)(0.60,-0.5)(0.55,-0.58)(0.50,-0.52)(0.45,-0.55)(0.40,-0.5)(0.35,-0.6)(0.30,-0.5)(0.25,-0.55)(0.20,-0.52)(0.15,-0.6)(0.10,-0.5)(0.05,-0.55)(0,-0.45)};
\addplot[ycomb, draw=spk, line width=0.45pt] coordinates {
(0.012,0.72)(0.024,1.2)(0.025,0.62)(0.04,0.65)(0.055,0.7)(0.07,0.78)(0.107,0.75)(0.132,0.85)(0.144,0.8)
(0.223,0.72)(0.236,0.62)(0.251,0.65)(0.266,0.7)(0.281,0.78)(0.298,1.2)(0.306,0.85)(0.318,0.8)
(0.418,0.72)(0.431,0.62)(0.436,1.2)(0.446,0.65)(0.461,0.7)(0.467,0.75)(0.476,0.78)(0.492,0.85)(0.504,0.8)
(0.605,0.72)(0.618,0.62)(0.633,0.65)(0.648,0.7)(0.662,0.75)(0.663,0.78)(0.687,0.85)(0.699,0.8)
(0.797,0.72)(0.810,0.62)(0.825,0.65)(0.840,0.7)(0.847,1.2)(0.855,0.78)(0.879,0.85)(0.891,0.8)
(0.984,1.2)(0.989,0.72)(1.002,0.62)(1.017,0.65)(1.032,0.7)(1.047,0.78)(1.063,0.75)(1.088,0.85)(1.100,0.8)
(1.184,0.72)(1.197,0.62)(1.212,0.65)(1.227,0.7)(1.242,0.78)(1.249,0.75)(1.259,1.2)(1.274,0.85)(1.286,0.8)
(1.373,0.72)(1.386,0.62)(1.396,1.2)(1.401,0.65)(1.416,0.7)(1.431,0.78)(1.434,0.75)(1.459,0.85)(1.471,0.8)
(1.565,0.72)(1.578,0.62)(1.593,0.65)(1.608,0.7)(1.623,0.78)(1.648,0.85)(1.660,0.8)(1.665,1.2)
(1.752,0.72)(1.765,0.62)(1.780,0.65)(1.795,0.7)(1.808,1.2)(1.810,0.78)(1.815,0.75)(1.840,0.85)(1.852,0.8)
(1.945,1.2)(1.947,0.72)(1.960,0.62)(1.975,0.65)(1.990,0.7)(2.005,0.78)(2.016,0.75)(2.041,0.85)(2.053,0.8)
(2.139,0.72)(2.152,0.62)(2.167,0.65)(2.182,0.7)(2.197,0.78)(2.202,0.75)(2.219,1.2)(2.227,0.85)(2.239,0.8)
(2.326,0.72)(2.339,0.62)(2.354,0.65)(2.356,1.2)(2.369,0.7)(2.384,0.78)(2.389,0.75)(2.414,0.85)(2.426,0.8)
(2.513,0.72)(2.526,0.62)(2.541,0.65)(2.556,0.7)(2.571,0.78)(2.584,0.75)(2.609,0.85)(2.621,0.8)(2.626,1.2)(2.72,0.75)};
\addplot[ycomb, draw=spk, line width=0.45pt] coordinates {
(0.05,-0.62)(0.16,-0.85)(0.261,-0.62)(0.366,-0.6)(0.456,-0.62)(0.552,-0.6)(0.643,-0.62)(0.746,-0.6)(0.835,-0.62)(0.938,-0.6)(1.027,-0.62)(1.118,-0.85)(1.222,-0.62)(1.327,-0.6)(1.411,-0.62)(1.516,-0.6)(1.603,-0.62)(1.704,-0.6)(1.790,-0.62)(1.897,-0.6)(1.985,-0.62)(2.07,-0.88)(2.177,-0.62)(2.28,-0.6)(2.364,-0.62)(2.467,-0.6)(2.551,-0.62)(2.68,-0.6)};
\end{axis}

\begin{axis}[botx, at={(39.3pt,-888pt)}, height=91pt, ymin=0, ymax=15, ytick={0,5,10,15},
  ylabel={fc\_pwr\_out\_r}, ylabel style={at={(axis description cs:-0.057,0.5)}}]
\addplot[ycomb, draw=spk, line width=0.45pt] coordinates {
(0.006,4.2)(0.018,3.8)(0.030,5.0)(0.042,4.5)(0.054,3.9)(0.066,5.5)(0.078,4.1)(0.090,4.8)(0.102,3.7)(0.114,5.2)
(0.126,3.8)(0.138,5.0)(0.150,4.5)(0.162,3.9)(0.174,5.5)(0.186,4.1)(0.198,4.8)(0.210,3.7)(0.222,5.2)(0.234,4.2)
(0.246,5.0)(0.258,4.5)(0.270,3.9)(0.282,5.5)(0.294,4.1)(0.306,4.8)(0.318,3.7)(0.330,5.2)(0.342,4.2)(0.354,3.8)
(0.366,4.5)(0.378,3.9)(0.390,5.5)(0.402,4.1)(0.414,4.8)(0.426,3.7)(0.438,5.2)(0.450,4.2)(0.462,3.8)(0.474,5.0)
(0.486,3.9)(0.498,5.5)(0.510,4.1)(0.522,4.8)(0.534,3.7)(0.546,5.2)(0.558,4.2)(0.570,3.8)(0.582,5.0)(0.594,4.5)
(0.606,5.5)(0.618,4.1)(0.630,4.8)(0.642,3.7)(0.654,5.2)(0.666,4.2)(0.678,3.8)(0.690,5.0)(0.702,4.5)(0.714,3.9)
(0.726,4.1)(0.738,4.8)(0.750,3.7)(0.762,5.2)(0.774,4.2)(0.786,3.8)(0.798,5.0)(0.810,4.5)(0.822,3.9)(0.834,5.5)
(0.846,4.8)(0.858,3.7)(0.870,5.2)(0.882,4.2)(0.894,3.8)(0.906,5.0)(0.918,4.5)(0.930,3.9)(0.942,5.5)(0.954,4.1)
(0.966,3.7)(0.978,5.2)(0.990,4.2)(1.002,3.8)(1.014,5.0)(1.026,4.5)(1.038,3.9)(1.050,5.5)(1.062,4.1)(1.074,4.8)
(1.086,5.2)(1.098,4.2)(1.110,3.8)(1.122,5.0)(1.134,4.5)(1.146,3.9)(1.158,5.5)(1.170,4.1)(1.182,4.8)(1.194,3.7)
(1.206,4.2)(1.218,3.8)(1.230,5.0)(1.242,4.5)(1.254,3.9)(1.266,5.5)(1.278,4.1)(1.290,4.8)(1.302,3.7)(1.314,5.2)
(1.326,3.8)(1.338,5.0)(1.350,4.5)(1.362,3.9)(1.374,5.5)(1.386,4.1)(1.398,4.8)(1.410,3.7)(1.422,5.2)(1.434,4.2)
(1.446,5.0)(1.458,4.5)(1.470,3.9)(1.482,5.5)(1.494,4.1)(1.506,4.8)(1.518,3.7)(1.530,5.2)(1.542,4.2)(1.554,3.8)
(1.566,4.5)(1.578,3.9)(1.590,5.5)(1.602,4.1)(1.614,4.8)(1.626,3.7)(1.638,5.2)(1.650,4.2)(1.662,3.8)(1.674,5.0)
(1.686,3.9)(1.698,5.5)(1.710,4.1)(1.722,4.8)(1.734,3.7)(1.746,5.2)(1.758,4.2)(1.770,3.8)(1.782,5.0)(1.794,4.5)
(1.806,5.5)(1.818,4.1)(1.830,4.8)(1.842,3.7)(1.854,5.2)(1.866,4.2)(1.878,3.8)(1.890,5.0)(1.902,4.5)(1.914,3.9)
(1.926,4.1)(1.938,4.8)(1.950,3.7)(1.962,5.2)(1.974,4.2)(1.986,3.8)(1.998,5.0)(2.010,4.5)(2.022,3.9)(2.034,5.5)
(2.046,4.8)(2.058,3.7)(2.070,5.2)(2.082,4.2)(2.094,3.8)(2.106,5.0)(2.118,4.5)(2.130,3.9)(2.142,5.5)(2.154,4.1)
(2.166,3.7)(2.178,5.2)(2.190,4.2)(2.202,3.8)(2.214,5.0)(2.226,4.5)(2.238,3.9)(2.250,5.5)(2.262,4.1)(2.274,4.8)
(2.286,5.2)(2.298,4.2)(2.310,3.8)(2.322,5.0)(2.334,4.5)(2.346,3.9)(2.358,5.5)(2.370,4.1)(2.382,4.8)(2.394,3.7)
(2.406,4.2)(2.418,3.8)(2.430,5.0)(2.442,4.5)(2.454,3.9)(2.466,5.5)(2.478,4.1)(2.490,4.8)(2.502,3.7)(2.514,5.2)
(2.526,3.8)(2.538,5.0)(2.550,4.5)(2.562,3.9)(2.574,5.5)(2.586,4.1)(2.598,4.8)(2.610,3.7)(2.622,5.2)(2.634,4.2)
(2.646,5.0)(2.658,4.5)(2.670,3.9)(2.682,5.5)(2.694,4.1)(2.706,4.8)(2.718,3.7)(2.730,5.2)};
\addplot[fill=blue, draw=none] coordinates {(0,0)
(0,3.0)(0.03,3.4)(0.06,2.7)(0.09,3.6)(0.12,2.9)(0.15,3.2)(0.18,2.6)(0.21,3.5)(0.24,3.1)(0.27,2.8)(0.30,3.3)(0.33,3.0)
(0.36,3.4)(0.39,2.8)(0.42,3.5)(0.45,2.9)(0.48,3.2)(0.51,2.7)(0.54,3.6)(0.57,3.0)(0.60,2.8)(0.63,3.3)(0.66,3.1)(0.69,2.7)
(0.72,3.3)(0.75,2.9)(0.78,3.5)(0.81,2.8)(0.84,3.2)(0.87,2.6)(0.90,3.4)(0.93,3.0)(0.96,2.9)(0.99,3.5)(1.02,2.8)(1.05,3.1)
(1.08,3.4)(1.11,2.7)(1.14,3.6)(1.17,2.9)(1.20,3.2)(1.23,2.6)(1.26,3.5)(1.29,3.1)(1.32,2.8)(1.35,3.3)(1.38,3.0)(1.41,2.7)
(1.44,3.3)(1.47,2.9)(1.50,3.5)(1.53,2.8)(1.56,3.2)(1.59,2.7)(1.62,3.4)(1.65,3.0)(1.68,2.9)(1.71,3.5)(1.74,2.8)(1.77,3.1)
(1.80,3.4)(1.83,2.7)(1.86,3.6)(1.89,2.9)(1.92,3.2)(1.95,2.6)(1.98,3.5)(2.01,3.1)(2.04,2.8)(2.07,3.3)(2.10,3.0)(2.13,2.7)
(2.16,3.3)(2.19,2.9)(2.22,3.5)(2.25,2.8)(2.28,3.2)(2.31,2.7)(2.34,3.4)(2.37,3.0)(2.40,2.9)(2.43,3.5)(2.46,2.8)(2.49,3.1)
(2.52,3.4)(2.55,2.7)(2.58,3.5)(2.61,2.9)(2.64,3.2)(2.67,2.8)(2.70,3.3)(2.73,3.0)(2.736,3.0)(2.736,0)};
\addplot[ycomb, draw=white, line width=0.5pt] coordinates {(1.94,2.3)(2.63,2.3)};
\addplot[ycomb, draw=spk, line width=0.45pt] coordinates {
(0.004,5.8)(0.018,8.0)(0.024,13.4)(0.030,10.9)(0.038,6.5)(0.050,5.2)(0.063,6.3)(0.076,4.8)(0.089,6.0)(0.102,5.3)(0.115,6.4)(0.128,4.6)
(0.141,6.2)(0.155,7.5)(0.161,13.4)(0.167,10.8)(0.175,5.9)(0.187,6.4)(0.200,5.0)(0.213,6.3)(0.226,4.7)(0.239,6.1)(0.252,5.5)(0.265,6.0)
(0.278,5.8)(0.292,8.0)(0.298,13.4)(0.304,10.9)(0.312,6.5)(0.324,5.2)(0.337,6.3)(0.350,4.8)(0.363,6.0)(0.376,5.3)(0.389,6.4)(0.402,4.6)
(0.416,6.2)(0.430,7.5)(0.436,13.4)(0.442,10.8)(0.450,5.9)(0.462,6.4)(0.475,5.0)(0.488,6.3)(0.501,4.7)(0.514,6.1)(0.527,5.5)(0.540,6.0)
(0.553,5.8)(0.567,8.0)(0.573,13.4)(0.579,10.9)(0.587,6.5)(0.599,5.2)(0.612,6.3)(0.625,4.8)(0.638,6.0)(0.651,5.3)(0.664,6.4)(0.677,4.6)
(0.690,6.2)(0.704,7.5)(0.710,13.4)(0.716,10.8)(0.724,5.9)(0.736,6.4)(0.749,5.0)(0.762,6.3)(0.775,4.7)(0.788,6.1)(0.801,5.5)(0.814,6.0)
(0.827,5.8)(0.841,8.0)(0.847,13.4)(0.853,10.9)(0.861,6.5)(0.873,5.2)(0.886,6.3)(0.899,4.8)(0.912,6.0)(0.925,5.3)(0.938,6.4)(0.951,4.6)
(0.964,6.2)(0.978,7.5)(0.984,13.4)(0.990,10.8)(0.998,5.9)(1.010,6.4)(1.023,5.0)(1.036,6.3)(1.049,4.7)(1.062,6.1)(1.075,5.5)(1.088,6.0)
(1.102,5.8)(1.116,8.0)(1.122,13.4)(1.128,10.9)(1.136,6.5)(1.148,5.2)(1.161,6.3)(1.174,4.8)(1.187,6.0)(1.200,5.3)(1.213,6.4)(1.226,4.6)
(1.239,6.2)(1.253,7.5)(1.259,13.4)(1.265,10.8)(1.273,5.9)(1.285,6.4)(1.298,5.0)(1.311,6.3)(1.324,4.7)(1.337,6.1)(1.350,5.5)(1.363,6.0)
(1.376,5.8)(1.390,8.0)(1.396,13.4)(1.402,10.9)(1.410,6.5)(1.422,5.2)(1.435,6.3)(1.448,4.8)(1.461,6.0)(1.474,5.3)(1.487,6.4)(1.500,4.6)
(1.513,6.2)(1.527,7.5)(1.533,13.4)(1.539,10.8)(1.547,5.9)(1.559,6.4)(1.572,5.0)(1.585,6.3)(1.598,4.7)(1.611,6.1)(1.624,5.5)(1.637,6.0)
(1.650,5.8)(1.664,8.0)(1.670,13.4)(1.676,10.9)(1.684,6.5)(1.696,5.2)(1.709,6.3)(1.722,4.8)(1.735,6.0)(1.748,5.3)(1.761,6.4)(1.774,4.6)
(1.788,6.2)(1.802,7.5)(1.808,13.4)(1.814,10.8)(1.822,5.9)(1.834,6.4)(1.847,5.0)(1.860,6.3)(1.873,4.7)(1.886,6.1)(1.899,5.5)(1.912,6.0)
(1.925,5.8)(1.939,8.0)(1.945,13.4)(1.951,10.9)(1.959,6.5)(1.971,5.2)(1.984,6.3)(1.997,4.8)(2.010,6.0)(2.023,5.3)(2.036,6.4)(2.049,4.6)
(2.062,6.2)(2.076,7.5)(2.082,13.4)(2.088,10.8)(2.096,5.9)(2.108,6.4)(2.121,5.0)(2.134,6.3)(2.147,4.7)(2.160,6.1)(2.173,5.5)(2.186,6.0)
(2.199,5.8)(2.213,8.0)(2.219,13.4)(2.225,10.9)(2.233,6.5)(2.245,5.2)(2.258,6.3)(2.271,4.8)(2.284,6.0)(2.297,5.3)(2.310,6.4)(2.323,4.6)
(2.336,6.2)(2.350,7.5)(2.356,13.4)(2.362,10.8)(2.370,5.9)(2.382,6.4)(2.395,5.0)(2.408,6.3)(2.421,4.7)(2.434,6.1)(2.447,5.5)(2.460,6.0)
(2.474,5.8)(2.488,8.0)(2.494,13.4)(2.500,10.9)(2.508,6.5)(2.520,5.2)(2.533,6.3)(2.546,4.8)(2.559,6.0)(2.572,5.3)(2.585,6.4)(2.598,4.6)
(2.611,6.2)(2.625,7.5)(2.631,13.4)(2.637,10.8)(2.645,5.9)(2.657,6.4)(2.670,5.0)(2.683,6.3)(2.696,4.7)(2.709,6.1)(2.722,5.5)(2.735,6.0)};
\end{axis}

% legends (bottom)
\legtwo{320.7}{569.3}{409.3}{600}
\legone{310.7}{676}{410}{694}{lgblue}{ess\_soc\_hist}
\legone{303.3}{785}{409.3}{802.3}{lgblue}{ess\_pwr\_out\_a}
\legone{314.3}{893.3}{410}{910}{lgblue}{fc\_pwr\_out\_r}

\node[anchor=west, inner sep=0pt, font=\fontsize{10}{12}\selectfont, text=black!85] at (40pt,-773pt) {x 10\textsuperscript{5}};
\node[anchor=west, inner sep=0pt, font=\fontsize{10}{12}\selectfont, text=black!85] at (40pt,-877.5pt) {x 10\textsuperscript{4}};
\node[inner sep=0pt, font=\fontsize{10}{12}\selectfont, text=black!85] at (405pt,-1005pt) {x 10\textsuperscript{4}};

\begin{scope}[shift={(440pt,-531.7pt)}, x=0.983pt, y=-0.983pt]
\guipanel{15.5}{13.7}{149}
\end{scope}

\end{tikzpicture}
\end{document}
